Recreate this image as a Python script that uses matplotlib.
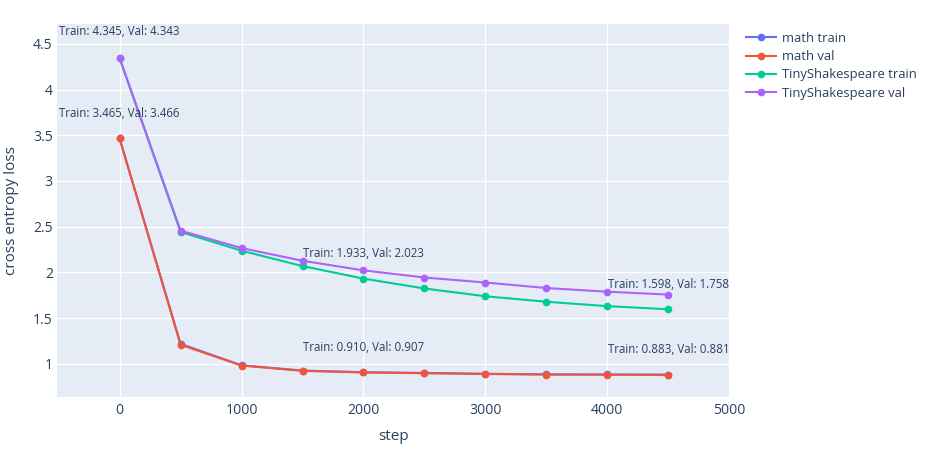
import matplotlib
matplotlib.use("Agg")
import matplotlib.pyplot as plt
from matplotlib.ticker import FuncFormatter, MultipleLocator
from matplotlib.textpath import TextPath
from matplotlib.font_manager import FontProperties

plt.rcParams['font.family'] = ['Open Sans', 'DejaVu Sans']

steps = [0, 500, 1000, 1500, 2000, 2500, 3000, 3500, 4000, 4500]
math_train = [3.465, 1.22, 0.985, 0.928, 0.910, 0.902, 0.893, 0.887, 0.885, 0.883]
math_val = [3.466, 1.21, 0.983, 0.925, 0.907, 0.899, 0.890, 0.884, 0.883, 0.881]
ts_train = [4.345, 2.443, 2.238, 2.07, 1.933, 1.825, 1.74, 1.68, 1.632, 1.598]
ts_val = [4.343, 2.457, 2.267, 2.128, 2.023, 1.945, 1.89, 1.83, 1.79, 1.758]

series_names = ["math train", "math val", "TinyShakespeare train", "TinyShakespeare val"]
colors = ["#636efa", "#EF553B", "#00cc96", "#ab63fa"]

annot_idx = [0, 4, 9]
math_offsets = [0.27, 0.27, 0.27]
ts_offsets = [0.29, 0.18, 0.11]

DPI = 100
fp = FontProperties(family="Open Sans")


def fit_size(sample, target_px):
    ext = TextPath((0, 0), sample, size=10, prop=fp).get_extents()
    w_px = ext.width * DPI / 72.0
    return 10 * target_px / w_px


tick_fs = fit_size("1000", 30)
legend_fs = fit_size("TinyShakespeare train", 133)
annot_fs = fit_size("Train: 4.345, Val: 4.343", 120)
title_fs = fit_size("step", 29)

W, H = 933, 450
fig = plt.figure(figsize=(W / DPI, H / DPI), dpi=DPI)
left, right, top, bottom = 57, 730, 24, 397
ax = fig.add_axes([left / W, 1 - bottom / H, (right - left) / W, (bottom - top) / H])
ax.set_facecolor("#E5ECF6")
for s in ax.spines.values():
    s.set_visible(False)
ax.grid(True, color="white", linewidth=1)
ax.set_axisbelow(True)

data = [math_train, math_val, ts_train, ts_val]
for vals, name, c in zip(data, series_names, colors):
    ax.plot(steps, vals, color=c, linewidth=1.5, marker="o", markersize=4.5, label=name, zorder=3)

txtc = "#2a3f5f"
for k, i in enumerate(annot_idx):
    ax.text(steps[i], max(math_train[i], math_val[i]) + math_offsets[k],
            f"Train: {math_train[i]:.3f}, Val: {math_val[i]:.3f}",
            ha="center", va="center", fontsize=annot_fs, color=txtc, zorder=4)
    ax.text(steps[i], max(ts_train[i], ts_val[i]) + ts_offsets[k],
            f"Train: {ts_train[i]:.3f}, Val: {ts_val[i]:.3f}",
            ha="center", va="center", fontsize=annot_fs, color=txtc, zorder=4)

ax.set_xlim(-513, 5005)
ax.set_ylim(0.639, 4.716)
ax.xaxis.set_major_locator(MultipleLocator(1000))
ax.yaxis.set_major_locator(MultipleLocator(0.5))
ax.yaxis.set_major_formatter(FuncFormatter(lambda v, p: f"{v:g}"))
ax.tick_params(length=0, labelsize=tick_fs, colors=txtc)
ax.tick_params(axis="y", pad=3)
ax.tick_params(axis="x", pad=4)
ax.set_xlabel("step", fontsize=title_fs, color=txtc, labelpad=8)
ax.set_ylabel("cross entropy loss", fontsize=title_fs, color=txtc, labelpad=10)

handles, labels = ax.get_legend_handles_labels()
fig.legend(handles, labels, loc="upper left", bbox_to_anchor=(746 / W, 1 - 32 / H),
           frameon=False, fontsize=legend_fs, labelcolor=txtc, handlelength=2.3,
           handletextpad=0.45, labelspacing=0.4, borderaxespad=0, borderpad=0)

fig.savefig("out.png", dpi=DPI, facecolor="white")
